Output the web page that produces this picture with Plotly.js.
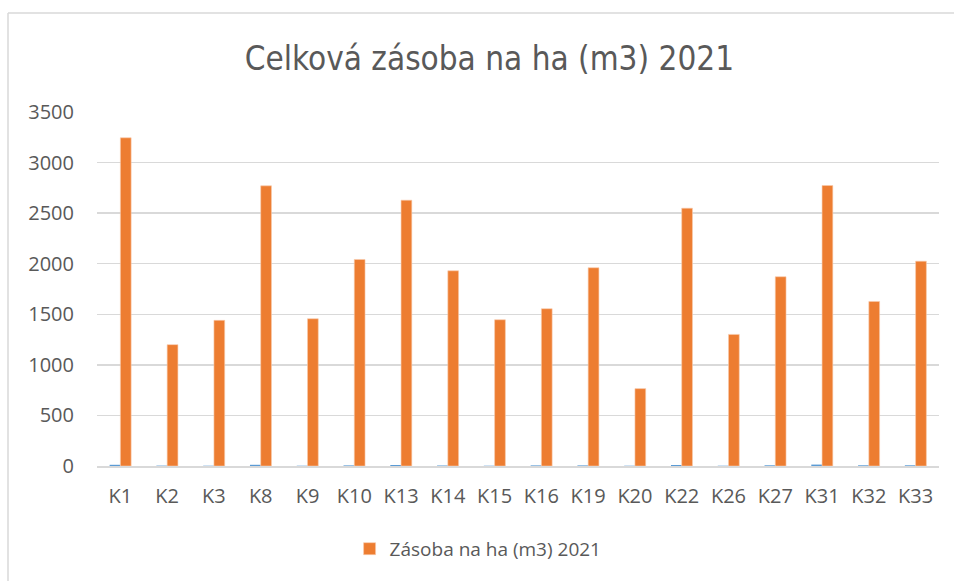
<!DOCTYPE html>
<html>
<head>
<meta charset="utf-8">
<script src="https://cdn.plot.ly/plotly-3.0.1.min.js"></script>
<style>html,body{margin:0;padding:0;background:#fff;}#chart{width:954px;height:581px;}</style>
</head>
<body>
<div id="chart"></div>
<script>
const categories = ["K1","K2","K3","K8","K9","K10","K13","K14","K15","K16","K19","K20","K22","K26","K27","K31","K32","K33"];
const zasoba2021 = [3245,1200,1440,2770,1456,2042,2628,1930,1446,1555,1960,765,2549,1301,1871,2773,1627,2025];
const smallSeries = [12,4,3,12,3,6,10,5,3,6,6,3,10,3,7,14,7,7];
const yTicks = [0,500,1000,1500,2000,2500,3000,3500];

const fontFam = '"Open Sans", "Noto Sans", sans-serif';

const traces = [
  {
    type: 'bar', x: categories, y: smallSeries, name: 'Series 1',
    marker: {color: '#5B9BD5'}, showlegend: false, hoverinfo: 'skip'
  },
  {
    type: 'bar', x: categories, y: zasoba2021, name: 'Zásoba na ha (m3) 2021',
    marker: {color: '#ED7D31', line: {color: '#F8CBAD', width: 0.6}}
  }
];

const layout = {
  width: 954, height: 581,
  margin: {l: 97, r: 15, t: 112, b: 115},
  paper_bgcolor: '#ffffff', plot_bgcolor: '#ffffff',
  barmode: 'group', bargap: 0.54, bargroupgap: 0,
  title: {
    text: 'Celková zásoba na ha (m3) 2021',
    font: {family: '"DejaVu Sans Condensed", "Noto Sans", sans-serif', size: 33, color: '#595959'},
    x: 0.513, xanchor: 'center', y: 0.9, yanchor: 'middle'
  },
  xaxis: {
    type: 'category', showgrid: false, zeroline: false,
    showline: true, linecolor: '#d9d9d9', linewidth: 1.5,
    ticks: '', tickfont: {family: fontFam, size: 20, color: '#595959'},
    ticklabelstandoff: 11
  },
  yaxis: {
    range: [0, 3500], tickvals: yTicks, ticktext: yTicks.map(String),
    showgrid: true, gridcolor: '#d9d9d9', gridwidth: 1.5,
    zeroline: false, showline: false, ticks: '',
    tickfont: {family: fontFam, size: 20, color: '#595959'},
    ticklabelstandoff: 22
  },
  showlegend: true,
  legend: {
    orientation: 'h', x: 0.30, xanchor: 'left', y: -0.234, yanchor: 'middle',
    font: {family: fontFam, size: 19, color: '#595959'},
    itemwidth: 30, bgcolor: 'rgba(0,0,0,0)'
  },
  shapes: [
    {type: 'line', xref: 'paper', yref: 'paper', x0: -0.1057, x1: -0.1057, y0: 1.2797, y1: -1, line: {color: '#d9d9d9', width: 1.5}},
    {type: 'line', xref: 'paper', yref: 'paper', x0: -0.1057, x1: 2, y0: 1.2797, y1: 1.2797, line: {color: '#d9d9d9', width: 1.5}}
  ]
};

Plotly.newPlot('chart', traces, layout, {displayModeBar: false, staticPlot: true});
</script>
</body>
</html>
